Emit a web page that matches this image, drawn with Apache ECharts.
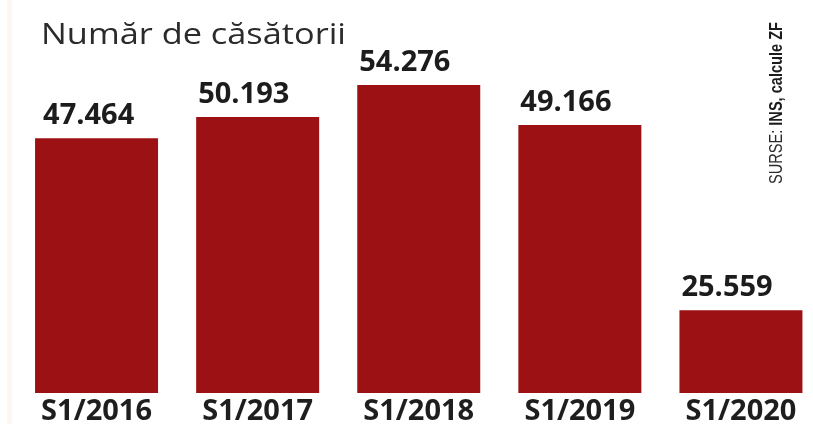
<!DOCTYPE html>
<html>
<head>
<meta charset="utf-8">
<script src="https://cdn.jsdelivr.net/npm/echarts@6/dist/echarts.min.js"></script>
<style>
  html, body { margin: 0; padding: 0; background: #ffffff; }
  #chart { width: 813px; height: 424px; }
</style>
</head>
<body>
<div id="chart"></div>
<script>
// Marriages registered in the first half of each year (Romania)
const categories = ['S1/2016', 'S1/2017', 'S1/2018', 'S1/2019', 'S1/2020'];
const marriages = [47464, 50193, 54276, 49166, 25559];

const titleText = 'Număr de căsătorii';
const sourceLabel = 'SURSE: ';
const sourceText = 'INS, calcule ZF';

// Romanian thousands separator: 47464 -> "47.464"
function formatRo(v) {
  return String(v).replace(/\B(?=(\d{3})+(?!\d))/g, '.');
}

const ctx = document.createElement('canvas').getContext('2d');
function textWidth(str, font) {
  ctx.font = font;
  return ctx.measureText(str).width;
}

// Title: widely tracked heading, stretched to its set length
const titleFont = 29;
const titleScale = 305 / textWidth(titleText, 'normal ' + titleFont + 'px Open Sans');

// Vertical source note, condensed to a fixed length
const srcFont = 19;
const srcFamily = 'Liberation Sans';
const srcW = textWidth(sourceLabel, 'normal ' + srcFont + 'px ' + srcFamily)
           + textWidth(sourceText, 'bold ' + srcFont + 'px ' + srcFamily);
const srcScale = 162 / srcW;

const axisMin = 15000;
const axisMax = 60000;

const chart = echarts.init(document.getElementById('chart'), null, { renderer: 'canvas' });

chart.setOption({
  animation: false,
  backgroundColor: '#ffffff',
  grid: {
    left: 16,
    right: -8.5,
    top: 40,
    bottom: 31,
    containLabel: false,
    outerBoundsMode: 'none'
  },
  xAxis: {
    type: 'category',
    data: categories,
    axisLine: { show: false },
    axisTick: { show: false },
    axisLabel: {
      margin: 4,
      fontFamily: 'Open Sans',
      fontWeight: 'bold',
      fontSize: 29,
      color: '#1e1e1e'
    }
  },
  yAxis: {
    type: 'value',
    min: axisMin,
    max: axisMax,
    show: false,
    splitLine: { show: false }
  },
  series: [{
    type: 'bar',
    data: marriages.map((v, i) => i === 0
      ? { value: v, label: { position: [8, -8] } }
      : v),
    barWidth: 123,
    itemStyle: { color: '#9c1214' },
    label: {
      show: true,
      position: [2, -8],
      align: 'left',
      verticalAlign: 'bottom',
      formatter: p => formatRo(p.value),
      fontFamily: 'Open Sans',
      fontWeight: 'bold',
      fontSize: 29,
      color: '#1c1c1c'
    }
  }],
  graphic: [
    {
      type: 'rect',
      left: 7,
      top: 0,
      shape: { width: 5, height: 424 },
      style: { fill: '#fdf6f3' },
      silent: true
    },
    {
      type: 'text',
      x: 41,
      y: 21,
      scaleX: titleScale,
      style: {
        text: titleText,
        fontFamily: 'Open Sans',
        fontSize: titleFont,
        fill: '#2b2b2b',
        verticalAlign: 'top'
      }
    },
    {
      type: 'text',
      x: 786,
      y: 184,
      rotation: Math.PI / 2,
      scaleX: srcScale,
      style: {
        text: '{a|' + sourceLabel + '}{b|' + sourceText + '}',
        rich: {
          a: { fontFamily: srcFamily, fontSize: srcFont, fill: '#2b2b2b' },
          b: { fontFamily: srcFamily, fontSize: srcFont, fontWeight: 'bold', fill: '#1c1c1c' }
        },
        verticalAlign: 'bottom'
      }
    }
  ]
});
</script>
</body>
</html>
